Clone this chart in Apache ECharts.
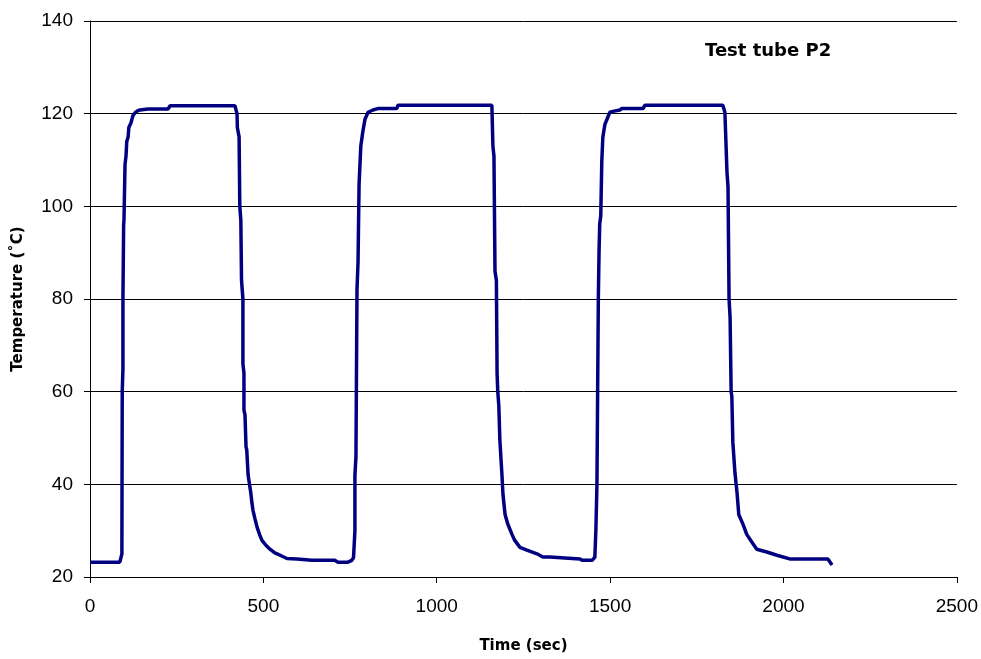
<!DOCTYPE html>
<html><head><meta charset="utf-8">
<script src="https://cdn.jsdelivr.net/npm/echarts@6/dist/echarts.min.js"></script>
<style>html,body{margin:0;padding:0;background:#fff}#c{width:981px;height:659px}</style>
</head><body><div id="c"></div>
<script>
const chartTitle = "Test tube P2";
const xAxisName = "Time (sec)";
const yAxisName = "Temperature (˚C)";
const xTicks = [0, 500, 1000, 1500, 2000, 2500];
const yTicks = [20, 40, 60, 80, 100, 120, 140];
const timeSec = [0,86,90,92,92,93,95,95,97,98,100,101,104,106,110,112,118,124,130,137,144,167,225,231,418,424,425,430,432,435,437,441,441,444,444,447,450,452,456,460,464,467,470,476,482,490,496,508,519,533,548,568,597,640,706,715,744,755,760,764,764,767,770,773,776,781,787,793,802,816,830,885,888,1159,1162,1165,1168,1172,1174,1176,1179,1182,1188,1191,1197,1205,1217,1225,1240,1260,1289,1306,1326,1330,1413,1419,1448,1456,1459,1462,1464,1466,1468,1470,1473,1476,1479,1485,1491,1499,1508,1528,1534,1595,1600,1825,1831,1837,1840,1843,1846,1849,1851,1854,1860,1866,1871,1883,1894,1909,1923,1952,1981,2018,2128,2140];
const tempC = [23.2,23.2,23.3,25,26,60,65,80,96,97,105,109,111,114,115,117,118,119.6,120.2,120.6,120.8,121,121,121.7,121.7,120,117,115,100,97,84,80,66,64,56,55,48,47.5,42,40,38,36,34.4,32.5,30.7,29,27.9,26.8,26,25.2,24.7,24,23.9,23.6,23.6,23.2,23.2,23.6,24.2,30,42,46,82,88,104.8,113,116.2,118.8,120.3,120.8,121.1,121.1,121.8,121.8,113,110.8,86,84,64,60,57,49.6,42.1,37.8,33.5,31.4,29.2,27.9,26.4,25.8,25,24.3,24.3,23.9,23.9,23.6,23.6,24.3,30.3,40,60,80,90,96.2,97.9,109.7,114.9,117.7,118.8,120.3,120.5,120.8,121.1,121.1,121.8,121.8,120.3,107.4,104.2,80,76,60,59,49,42.5,38.2,33.5,31.4,29.2,27.5,26,25.4,24.7,23.9,23.9,22.6];

const seriesData = timeSec.map((t, i) => [t, tempC[i]]);
const chart = echarts.init(document.getElementById('c'));
const font = '"Liberation Sans", Arial, sans-serif';
const boldFont = '"DejaVu Sans", sans-serif';
chart.setOption({
  animation: false,
  backgroundColor: '#fff',
  title: {
    text: chartTitle, left: 700, top: 37,
    textStyle: { fontFamily: boldFont, fontWeight: 'bold', fontSize: 18, color: '#000' }
  },
  grid: { left: 90, right: 24, top: 21, bottom: 79 },
  xAxis: {
    type: 'value', min: xTicks[0], max: xTicks[xTicks.length - 1], interval: 500,
    name: xAxisName, nameLocation: 'middle', nameGap: 62,
    nameTextStyle: { fontFamily: boldFont, fontWeight: 'bold', fontSize: 15, color: '#000' },
    axisLine: { show: true, lineStyle: { color: '#000', width: 1 } },
    axisTick: { show: true, length: 6, inside: false, lineStyle: { color: '#000' } },
    axisLabel: { margin: 20, fontFamily: font, fontSize: 19, color: '#000', formatter: v => String(v) },
    splitLine: { show: false }
  },
  yAxis: {
    type: 'value', min: yTicks[0], max: yTicks[yTicks.length - 1], interval: 20,
    name: yAxisName, nameLocation: 'middle', nameGap: 64, nameRotate: 90,
    nameTextStyle: { fontFamily: boldFont, fontWeight: 'bold', fontSize: 15, color: '#000' },
    axisLine: { show: true, lineStyle: { color: '#000', width: 1 } },
    axisTick: { show: true, length: 6, inside: false, lineStyle: { color: '#000' } },
    axisLabel: { margin: 17, fontFamily: font, fontSize: 19, color: '#000', formatter: v => String(v) },
    splitLine: { show: true, lineStyle: { color: '#000', width: 1 } }
  },
  series: [{
    type: 'line', data: seriesData, showSymbol: false, smooth: false,
    lineStyle: { color: '#000080', width: 3.5 }, itemStyle: { color: '#000080' }
  }]
});
</script></body></html>
